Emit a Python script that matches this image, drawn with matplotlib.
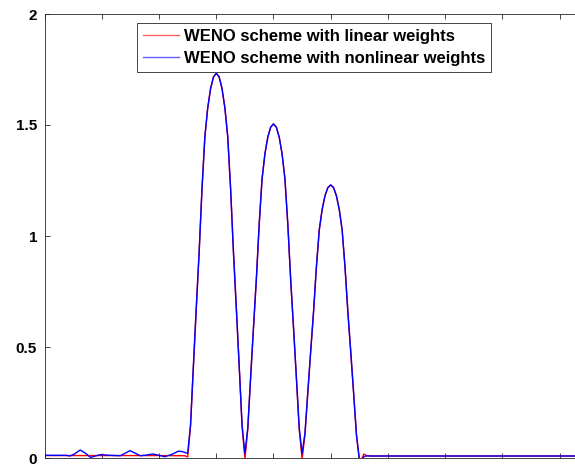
import matplotlib
matplotlib.use('Agg')
import matplotlib.pyplot as plt

# values (x in tick units, 0..10)
x_flat_lin = [0.0, 0.5, 1.0, 1.5, 2.0, 2.45]
y_flat_lin = [0.011, 0.011, 0.011, 0.011, 0.011, 0.010]

x_flat_nl = [0.0, 0.38, 0.44, 0.52, 0.62, 0.71, 0.80, 0.90, 0.97, 1.15, 1.32,
             1.41, 1.49, 1.58, 1.67, 1.78, 1.89, 2.0, 2.1, 2.22, 2.34, 2.42, 2.48]
y_flat_nl = [0.012, 0.012, 0.009, 0.018, 0.036, 0.022, 0.003, 0.010, 0.015, 0.012, 0.010,
             0.022, 0.033, 0.022, 0.010, 0.013, 0.018, 0.012, 0.006, 0.016, 0.031, 0.028, 0.022]

x_bumps = [round(2.5 + 0.05 * i, 2) for i in range(61)]
y_bumps_lin = [0.005, 0.147, 0.416, 0.676, 0.927, 1.213, 1.447, 1.577, 1.664, 1.716, 1.733,
               1.716, 1.664, 1.577, 1.447, 1.213, 0.927, 0.676, 0.416, 0.147, -0.005,
               0.128, 0.361, 0.587, 0.805, 1.054, 1.257, 1.370, 1.445, 1.490, 1.505,
               1.490, 1.445, 1.370, 1.257, 1.054, 0.805, 0.587, 0.361, 0.128, -0.005,
               0.105, 0.295, 0.480, 0.658, 0.861, 1.027, 1.119, 1.181, 1.218, 1.230,
               1.218, 1.181, 1.119, 1.027, 0.861, 0.658, 0.480, 0.295, 0.105, -0.005]
y_bumps_nl = [0.022, 0.150, 0.416, 0.676, 0.927, 1.213, 1.447, 1.577, 1.664, 1.716, 1.733,
              1.716, 1.664, 1.577, 1.447, 1.213, 0.927, 0.676, 0.416, 0.150, 0.020,
              0.135, 0.363, 0.587, 0.805, 1.054, 1.257, 1.370, 1.445, 1.490, 1.505,
              1.490, 1.445, 1.370, 1.257, 1.054, 0.805, 0.587, 0.363, 0.135, 0.020,
              0.112, 0.297, 0.480, 0.658, 0.861, 1.027, 1.119, 1.181, 1.218, 1.230,
              1.218, 1.181, 1.119, 1.027, 0.861, 0.658, 0.480, 0.295, 0.105, -0.005]

x_tail = [5.53, 5.58, 5.63, 5.7, 10.0]
y_tail_lin = [-0.012, 0.018, 0.010, 0.009, 0.009]
y_tail_nl = [-0.012, 0.006, 0.010, 0.009, 0.009]

labels = ['WENO scheme with linear weights', 'WENO scheme with nonlinear weights']
ytick_vals = [0, 0.5, 1, 1.5, 2]

plt.rcParams['font.family'] = ['Liberation Sans', 'DejaVu Sans']
plt.rcParams['font.weight'] = 'bold'

fig = plt.figure(figsize=(5.75, 4.65), dpi=100)
ax = fig.add_axes([44.7 / 575, 7 / 465, 572 / 575, 444 / 465])

x_lin = x_flat_lin + x_bumps + x_tail
y_lin = y_flat_lin + y_bumps_lin + y_tail_lin
x_nl = x_flat_nl + x_bumps + x_tail
y_nl = y_flat_nl + y_bumps_nl + y_tail_nl

ax.plot(x_lin, y_lin, color='red', lw=1.0, label=labels[0])
ax.plot(x_nl, y_nl, color='blue', lw=1.0, label=labels[1])

ax.set_xlim(0, 10)
ax.set_ylim(0, 2)
ax.set_xticks(range(11))
ax.set_xticklabels([])
ax.set_yticks(ytick_vals)
ax.set_yticklabels(['0', '0.5', '1', '1.5', '2'])
ax.tick_params(direction='in', length=3.6, width=0.6, color='0.15',
               top=True, right=True, labelsize=11, pad=5.5)
for s in ax.spines.values():
    s.set_color('0.15')
    s.set_linewidth(0.6)

leg = ax.legend(loc='upper left', bbox_to_anchor=(136.7 / 575, 1 - 23.3 / 465),
                bbox_transform=fig.transFigure, borderaxespad=0, fontsize=12,
                handlelength=2.15, handletextpad=0.34, borderpad=0.36,
                labelspacing=0.38, fancybox=False, framealpha=1)
leg.get_frame().set_edgecolor('0.15')
leg.get_frame().set_linewidth(0.6)
for line, c in zip(leg.get_lines(), ['#ff6060', '#6060ff']):
    line.set_linewidth(1.0)
    line.set_color(c)

plt.savefig('out.png', dpi=100)
